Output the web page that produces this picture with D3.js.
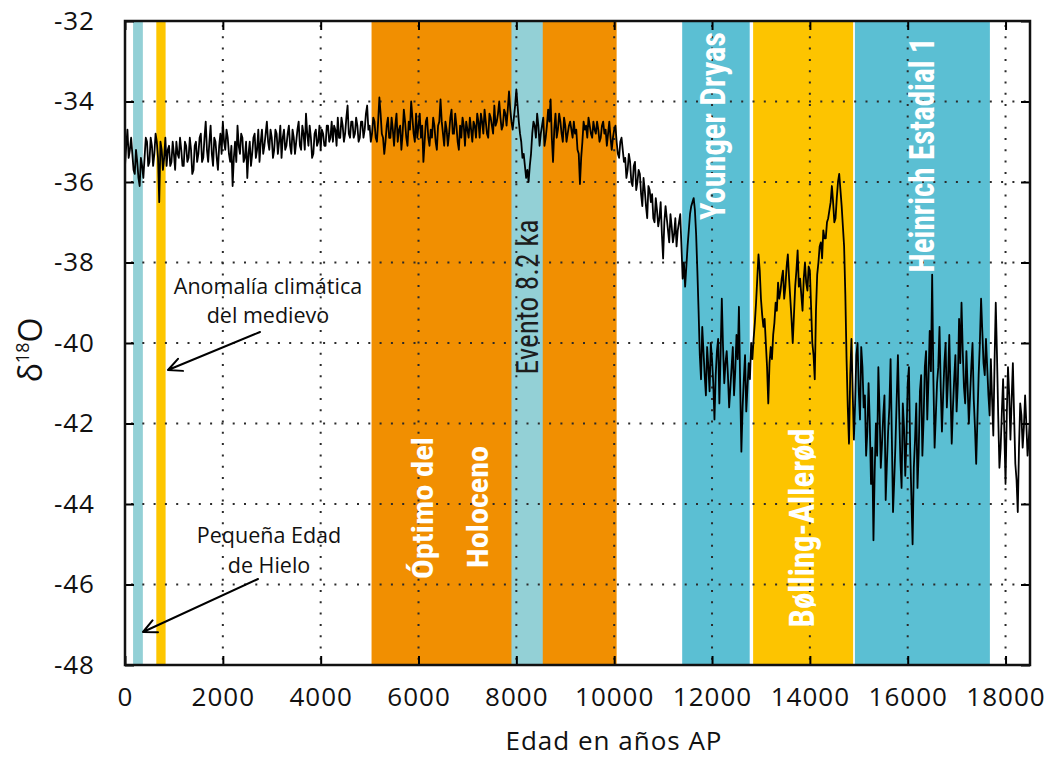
<!DOCTYPE html>
<html>
<head>
<meta charset="utf-8">
<script src="https://cdn.jsdelivr.net/npm/d3@7"></script>
<style>
  body { margin: 0; background: #fff; }
  svg { display: block; }
</style>
</head>
<body>
<svg id="chart" width="1049" height="757"></svg>
<script>
// δ18O record, one value every 25 years (age in years BP)
const ageStep = 25;

// 0 – 5000 BP
const d18O_0_5000 = [
  -35.6, -35.1, -34.7, -35.4, -35.2, -34.9, -35.3, -35.7, -35.8, -35.2, -35.5, -35.9, -36.1, -35.4, -35.6, -35.9, -35.4, -34.9, -35.0, -35.6,
  -35.5, -34.9, -35.1, -35.6, -35.3, -34.8, -35.0, -35.4, -36.5, -35.0, -35.2, -35.7, -35.4, -34.9, -35.6, -35.2, -35.1, -35.6, -35.5, -35.0,
  -35.3, -35.7, -35.0, -35.3, -35.4, -34.9, -35.2, -35.6, -35.6, -35.0, -35.1, -35.5, -35.4, -34.9, -35.2, -35.8, -35.7, -35.1, -35.0, -35.5,
  -35.3, -34.9, -34.8, -35.5, -35.4, -34.9, -34.5, -35.2, -35.5, -35.0, -34.6, -35.3, -35.6, -34.9, -35.0, -35.4, -35.7, -35.1, -34.8, -35.3,
  -34.5, -35.0, -35.2, -34.7, -34.9, -35.3, -35.5, -35.1, -36.1, -35.4, -35.0, -35.5, -34.6, -35.1, -35.3, -34.8, -34.9, -35.5, -35.4, -35.0,
  -35.9, -35.3, -35.0, -35.6, -35.3, -34.9, -34.8, -35.4, -35.2, -34.7, -35.5, -35.0, -34.7, -35.3, -35.1, -34.8, -34.5, -35.0, -35.2, -34.7,
  -34.9, -35.4, -35.2, -34.7, -34.8, -35.3, -35.0, -34.6, -35.4, -34.9, -34.7, -35.2, -35.1, -34.8, -34.6, -35.1, -35.3, -34.7, -34.9, -35.3,
  -35.0, -34.7, -34.5, -35.1, -35.2, -34.6, -34.8, -35.2, -34.3, -34.8, -35.1, -34.6, -34.9, -35.4, -35.3, -34.8, -34.7, -35.1, -35.0, -34.6,
  -35.2, -34.7, -34.8, -35.1, -35.1, -34.6, -34.6, -35.0, -34.9, -34.5, -35.0, -34.6, -34.7, -35.1, -34.4, -34.9, -34.9, -34.4, -34.6, -35.0,
  -34.8, -34.4, -34.1, -34.8, -34.9, -34.5, -34.5, -34.9, -34.8, -34.4, -34.6, -35.0, -34.9, -34.5, -34.5, -34.9, -34.7, -34.3, -34.1, -34.7,
  -34.6
];

// 5025 – 10000 BP
const d18O_5025_10000 = [
  -35.0, -34.8, -34.4, -34.5, -34.9, -35.0, -34.5, -33.9, -34.3, -34.8, -34.9, -35.3, -35.0, -34.6, -34.4, -34.9, -34.9, -34.4, -34.7, -35.1,
  -34.6, -34.3, -35.0, -34.7, -34.6, -35.2, -34.8, -34.2, -34.5, -34.9, -35.1, -34.5, -34.7, -34.0, -34.4, -34.8, -35.0, -34.3, -34.9, -34.6,
  -34.3, -34.9, -34.6, -35.5, -35.0, -34.5, -34.4, -34.9, -35.1, -34.7, -34.9, -34.4, -34.6, -35.0, -35.2, -34.6, -34.5, -33.95, -34.5, -34.8,
  -35.1, -34.5, -34.7, -35.1, -34.8, -34.4, -34.2, -34.8, -34.8, -34.3, -34.6, -35.0, -35.2, -34.6, -34.9, -34.4, -34.6, -35.1, -34.5, -34.7,
  -34.9, -34.4, -34.7, -35.0, -34.5, -34.6, -34.9, -34.3, -34.5, -34.9, -34.3, -34.5, -34.8, -34.2, -34.5, -34.8, -34.9, -34.3, -34.4, -34.6,
  -34.8, -34.1, -34.6, -34.5, -34.3, -34.0, -34.4, -34.7, -34.6, -34.2, -34.3, -34.6, -34.2, -33.75, -34.2, -34.5, -34.7, -34.4, -34.1, -33.7,
  -34.1, -34.5, -34.8, -35.0, -35.4, -35.3, -35.6, -35.9, -35.7, -36.0, -35.6, -35.3, -34.8, -34.5, -34.6, -34.9, -34.3, -34.6, -35.1, -34.8,
  -34.6, -34.4, -35.1, -34.9, -34.6, -34.2, -34.5, -33.95, -34.9, -35.5, -34.7, -34.3, -34.9, -34.7, -34.3, -34.5, -34.8, -35.0, -34.4, -34.6,
  -35.0, -34.8, -34.6, -34.5, -34.7, -34.9, -34.5, -34.8, -34.7, -35.2, -35.3, -36.05, -35.4, -35.0, -34.5, -34.7, -34.6, -34.9, -34.4, -34.6,
  -34.8, -34.9, -34.5, -34.7, -34.8, -34.5, -34.7, -35.0, -34.9, -34.6, -34.5, -34.8, -34.7, -35.1, -34.8, -34.5, -34.9, -35.2, -34.9, -34.7
];

// 10025 – 12800 BP (deglaciation and Younger Dryas)
const d18O_10025_12800 = [
  -34.6, -35.0, -35.3, -35.4, -35.0, -34.9, -35.2, -35.5, -35.4, -35.9, -35.7, -35.3, -35.5, -36.0, -36.1, -35.6, -35.5, -36.2, -36.0, -35.7,
  -35.8, -36.3, -36.6, -35.9, -36.2, -36.6, -36.9, -36.1, -36.2, -36.5, -36.3, -36.9, -37.0, -36.4, -36.7, -37.1, -36.9, -36.5, -37.3, -37.9,
  -37.0, -36.6, -36.9, -37.2, -37.5, -36.8, -37.1, -37.5, -37.3, -36.9, -37.6, -37.2, -37.0, -36.8, -37.6, -38.4, -38.0, -38.6, -38.1, -37.6,
  -37.2, -36.8, -36.6, -36.5, -36.4, -36.7, -37.3, -38.2,
  -39.2, -40.3, -40.9, -39.6, -40.2, -40.8, -41.3, -40.1, -40.6, -41.2, -40.0, -40.4, -41.0, -41.9, -40.8, -40.2, -39.9, -41.5, -40.3, -38.9,
  -40.1, -41.0, -40.5, -40.2, -40.8, -41.6, -41.1, -40.6, -40.1, -41.3, -40.7, -39.8, -40.4, -39.1, -41.0, -42.7, -41.6, -40.9, -40.3, -41.7,
  -41.1, -40.5, -40.9, -40.0
];

// 12825 – 14900 BP (Bølling-Allerød)
const d18O_12825_14900 = [
  -40.4, -39.9, -39.5, -39.0, -38.4, -37.8, -38.2, -38.9, -39.3, -39.6, -39.4, -40.0, -40.6, -41.5, -40.5, -40.1, -40.4, -39.8, -39.5, -39.0,
  -39.2, -38.5, -38.9, -38.7, -38.4, -38.2, -38.9, -38.6, -38.1, -37.8, -38.4, -38.9, -39.4, -40.0, -39.3, -38.6, -38.2, -37.7, -38.6, -38.4,
  -38.8, -39.2, -38.4, -38.0, -38.5, -38.7, -38.1, -38.2, -39.1, -40.0, -40.3, -40.9, -39.2, -38.3, -38.0, -37.6, -37.5, -37.9, -37.2, -37.4,
  -37.4, -37.0, -36.9, -36.7, -36.5, -36.1, -36.5, -37.0, -36.9, -36.4, -36.0, -35.8, -36.2, -36.6, -37.1, -37.6, -38.8, -40.4, -41.6, -42.5,
  -40.8, -39.9, -41.2, -42.4
];

// 14925 – 18500 BP (Heinrich Stadial 1 and before)
const d18O_14925_18500 = [
  -41.5, -40.3, -40.0, -41.2, -41.9, -40.1, -40.6, -41.6, -41.3, -42.8, -42.2, -41.0, -42.0, -43.5, -42.6, -44.9, -43.2, -42.0, -42.8, -40.6,
  -41.7, -43.1, -42.5, -41.8, -41.3, -43.9, -43.0, -42.2, -41.6, -40.4, -42.3, -44.2, -43.4, -42.5, -41.4, -40.3, -41.7, -42.9, -43.6, -41.5,
  -42.1, -43.3, -42.4, -41.0, -40.6, -42.6, -43.8, -45.0, -43.1, -42.4, -41.5, -43.6, -42.7, -41.2, -40.8, -42.8, -41.9, -40.6, -40.2, -41.9,
  -40.9, -39.7, -40.7, -38.3, -40.9, -42.6, -41.8, -41.0, -40.6, -39.6, -41.1, -42.2, -41.3, -40.5, -40.0, -41.6, -40.9, -39.8, -41.2, -42.5,
  -41.6, -40.9, -40.3, -41.7, -41.0, -39.4, -40.5, -39.0, -40.2, -41.1, -41.5, -40.2, -41.1, -42.0, -41.3, -40.6, -40.0, -41.4, -42.1, -43.0,
  -41.9, -40.8, -40.0, -38.9, -39.7, -40.5, -40.8, -39.9, -40.6, -41.3,
  -41.8, -40.4, -41.4, -42.3, -40.5, -39.0, -40.3, -41.8, -43.1, -42.6, -41.7, -40.9, -42.2, -43.5, -41.8, -40.6, -41.3, -42.4, -41.4, -40.5,
  -41.8, -43.0, -43.4, -44.2, -42.6, -41.5, -41.8, -42.6, -42.1, -41.3, -42.0, -42.8, -42.4, -41.9
];

const blockStarts = [0, 5025, 10025, 12825, 14925];
const blockValues = [d18O_0_5000, d18O_5025_10000, d18O_10025_12800, d18O_12825_14900, d18O_14925_18500];

// Climatic periods shaded behind the record (years BP)
const periodNames  = ["Pequeña Edad de Hielo", "Anomalía climática medieval", "Óptimo del Holoceno", "Evento 8.2 ka", "Younger Dryas", "Bølling-Allerød", "Heinrich Estadial 1"];
const periodStart  = [165, 640, 5040, 7900, 11390, 12840, 14920];
const periodEnd    = [365, 830, 10050, 8540, 12770, 14885, 17680];
const periodColors = ["#93d0d6", "#fdc600", "#f18f01", "#93d0d6", "#5bbfd3", "#fdc400", "#5bbfd3"];

const xTicks = [0, 2000, 4000, 6000, 8000, 10000, 12000, 14000, 16000, 18000];
const yTicks = [-32, -34, -36, -38, -40, -42, -44, -46, -48];

const svg = d3.select("#chart");
const plotLeft = 125, plotRight = 1030, plotTop = 21, plotBottom = 665;

const x = d3.scaleLinear().domain([0, 18500]).range([plotLeft, plotRight]);
const y = d3.scaleLinear().domain([-48, -32]).range([plotBottom, plotTop]);

const series = [];
blockValues.forEach((vals, b) => {
  vals.forEach((v, i) => series.push({ age: blockStarts[b] + i * ageStep, v }));
});

// period bands
svg.append("g").selectAll("rect")
  .data(periodNames.map((n, i) => ({ n, s: periodStart[i], e: periodEnd[i], c: periodColors[i] })))
  .join("rect")
  .attr("x", d => x(d.s))
  .attr("width", d => x(d.e) - x(d.s))
  .attr("y", plotTop)
  .attr("height", plotBottom - plotTop)
  .attr("fill", d => d.c);

// dotted grid
const grid = svg.append("g")
  .attr("stroke", "#2a2a2a")
  .attr("stroke-width", 2)
  .attr("stroke-dasharray", "2,9.3");
grid.selectAll("line.gx").data(xTicks.filter(t => t > 0)).join("line")
  .attr("class", "gx")
  .attr("x1", d => x(d)).attr("x2", d => x(d))
  .attr("y1", plotTop + 4).attr("y2", plotBottom);
grid.selectAll("line.gy").data(yTicks.filter(t => t > -48 && t < -32)).join("line")
  .attr("class", "gy")
  .attr("y1", d => y(d)).attr("y2", d => y(d))
  .attr("x1", plotLeft + 6).attr("x2", plotRight);

// period labels (vertical)
const condensed = "'Liberation Sans Narrow', 'Arial Narrow', 'Nimbus Sans Narrow', Roboto, sans-serif";
const bandLabels = [
  { t: "Óptimo del", bx: 433, cy: 508, len: 142, size: 29, w: "bold", c: "#fff" },
  { t: "Holoceno",   bx: 488, cy: 507, len: 122, size: 29, w: "bold", c: "#fff" },
  { t: "Evento 8.2 ka", bx: 538, cy: 297, len: 155, size: 31, w: "normal", c: "#1d1d1d" },
  { t: "Younger Dryas", bx: 725, cy: 126, len: 188, size: 35, w: "bold", c: "#fff" },
  { t: "Bølling-Allerød", bx: 814, cy: 528, len: 199, size: 35, w: "bold", c: "#fff" },
  { t: "Heinrich Estadial 1", bx: 934, cy: 155, len: 235, size: 35, w: "bold", c: "#fff" }
];
svg.append("g").selectAll("text").data(bandLabels).join("text")
  .attr("transform", d => `translate(${d.bx},${d.cy}) rotate(-90)`)
  .attr("text-anchor", "middle")
  .attr("font-family", condensed)
  .attr("font-stretch", "condensed")
  .attr("font-weight", d => d.w)
  .attr("font-size", d => d.size)
  .attr("fill", d => d.c)
  .attr("textLength", d => d.len)
  .attr("lengthAdjust", "spacingAndGlyphs")
  .text(d => d.t);

// the record
svg.append("path")
  .datum(series)
  .attr("fill", "none")
  .attr("stroke", "#000")
  .attr("stroke-width", 1.8)
  .attr("stroke-linejoin", "round")
  .attr("d", d3.line().x(d => x(d.age)).y(d => y(d.v)));

// axes with inward ticks on all four sides
const tickFont = "'Open Sans', 'Noto Sans', sans-serif";
function styleAxis(g) {
  g.select(".domain").remove();
  g.selectAll(".tick line").attr("stroke", "#000").attr("stroke-width", 2);
  g.selectAll(".tick text")
    .attr("font-family", tickFont)
    .attr("font-size", 26)
    .attr("letter-spacing", "1px")
    .attr("fill", "#111");
}
svg.append("g").attr("transform", `translate(0,${plotBottom})`)
  .call(d3.axisBottom(x).tickValues(xTicks).tickFormat(d3.format("d")).tickSize(-9).tickPadding(23))
  .call(styleAxis);
svg.append("g").attr("transform", `translate(${plotLeft},0)`)
  .call(d3.axisLeft(y).tickValues(yTicks).tickFormat(d => String(d)).tickSize(-9).tickPadding(30))
  .call(styleAxis);
svg.append("g").attr("transform", `translate(0,${plotTop})`)
  .call(d3.axisTop(x).tickValues(xTicks).tickSize(-9).tickFormat(""))
  .call(styleAxis);
svg.append("g").attr("transform", `translate(${plotRight},0)`)
  .call(d3.axisRight(y).tickValues(yTicks).tickSize(-9).tickFormat(""))
  .call(styleAxis);

// frame
svg.append("rect")
  .attr("x", plotLeft).attr("y", plotTop)
  .attr("width", plotRight - plotLeft).attr("height", plotBottom - plotTop)
  .attr("fill", "none").attr("stroke", "#111").attr("stroke-width", 2.5);

// axis titles
svg.append("text")
  .attr("x", 614).attr("y", 750)
  .attr("text-anchor", "middle")
  .attr("font-family", tickFont).attr("font-size", 26).attr("letter-spacing", "1px")
  .attr("fill", "#111")
  .text("Edad en años AP");

const yTitle = svg.append("text")
  .attr("transform", "translate(42,350) rotate(-90)")
  .attr("text-anchor", "middle")
  .attr("font-family", tickFont).attr("font-size", 32)
  .attr("fill", "#111");
yTitle.append("tspan").text("δ");
yTitle.append("tspan").attr("font-size", 18).attr("dy", -13).text("18");
yTitle.append("tspan").attr("dy", 13).text("O");

// annotations with arrows
const notes = [
  { lines: ["Anomalía climática", "del medievo"], cx: 268, base: [294, 323], from: [260, 332], to: [168, 370] },
  { lines: ["Pequeña Edad", "de Hielo"], cx: 269, base: [543, 573], from: [258, 579], to: [143, 632] }
];
notes.forEach(n => {
  n.lines.forEach((l, i) => {
    svg.append("text")
      .attr("x", n.cx).attr("y", n.base[i])
      .attr("text-anchor", "middle")
      .attr("font-family", tickFont).attr("font-size", 21.5)
      .attr("fill", "#111")
      .text(l);
  });
  const [x1, y1] = n.from, [x2, y2] = n.to;
  const ang = Math.atan2(y1 - y2, x1 - x2);
  const arm = 15, spread = 0.45;
  const p = d3.path();
  p.moveTo(x1, y1); p.lineTo(x2, y2);
  p.moveTo(x2 + arm * Math.cos(ang + spread), y2 + arm * Math.sin(ang + spread));
  p.lineTo(x2, y2);
  p.lineTo(x2 + arm * Math.cos(ang - spread), y2 + arm * Math.sin(ang - spread));
  svg.append("path").attr("d", p.toString())
    .attr("fill", "none").attr("stroke", "#000").attr("stroke-width", 2)
    .attr("stroke-linecap", "round").attr("stroke-linejoin", "round");
});
</script>
</body>
</html>
